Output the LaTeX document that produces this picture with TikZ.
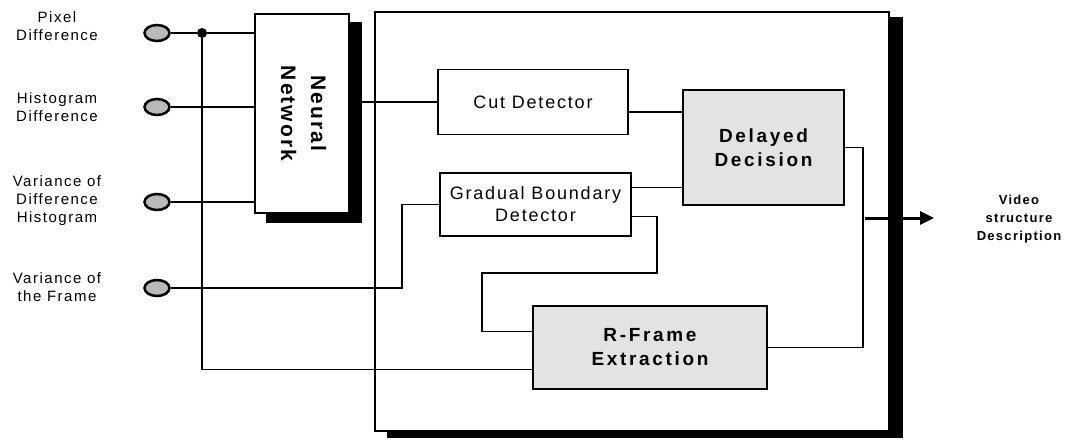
\documentclass[tikz,border=0pt]{standalone}
\usepackage{fontspec}
\setmainfont{Liberation Sans}
\newfontfamily\spaced[LetterSpace=10]{Liberation Sans}
\newfontfamily\wide[LetterSpace=14]{Liberation Sans}
\usetikzlibrary{shapes.geometric, arrows.meta, positioning}

\begin{document}
\begin{tikzpicture}[
    x=1pt, y=-1pt,
    every node/.style={font=\spaced},
    wire/.style={line width=1.5pt},
    block/.style={draw, line width=1.6pt, fill=white, align=center, inner sep=0pt,
        font=\spaced\fontsize{18}{22}\selectfont},
    grayblock/.style={block, fill=gray!22, font=\wide\bfseries\fontsize{19}{24}\selectfont},
    input/.style={ellipse, draw=black, line width=2.5pt, fill=gray!55,
        minimum width=25pt, minimum height=16pt, inner sep=0pt},
    inlabel/.style={align=center, font=\spaced\fontsize{15}{18}\selectfont},
    dot/.style={circle, fill, inner sep=0pt, minimum size=10pt},
    shadow/.style={fill=black},
]
\useasboundingbox (0,0) rectangle (1066,440);

% === Outer frame with shadow ===
\node[draw, line width=1.4pt, minimum width=514pt, minimum height=419pt] (frame) at (632,221.5) {};
\fill[shadow] ([shift={(13pt,-6pt)}]frame.south west) rectangle ([shift={(13pt,-6pt)}]frame.north east);
\node[draw, line width=1.4pt, fill=white, minimum width=514pt, minimum height=419pt] at (frame.center) {};

% === Inputs ===
\node[input] (pix)  at (157,33) {};
\node[input] (hist) at (157,107) {};
\node[input] (vdh)  at (157,202) {};
\node[input] (vfr)  at (157,288) {};

\node[inlabel] (pixlab)  at (57,26)  {Pixel\\Difference};
\node[inlabel] (histlab) at (57,107) {Histogram\\Difference};
\node[inlabel] (vdhlab)  at (57,201) {Variance of\\Difference\\Histogram};
\node[inlabel] (vfrlab)  at (57,287) {Variance of\\the Frame};

% === Neural network with shadow ===
\node[draw, line width=1.6pt, minimum width=94pt, minimum height=199pt] (nn) at (302,113.5) {};
\fill[shadow] ([shift={(12pt,-9pt)}]nn.south west) rectangle ([shift={(12pt,-9pt)}]nn.north east);
\node[block, minimum width=94pt, minimum height=199pt,
      font=\spaced\bfseries\fontsize{21}{30}\selectfont] at (nn.center)
      {\rotatebox{-90}{\begin{tabular}{@{}c@{}}Neural\\Network\end{tabular}}};

% === Detectors ===
\node[block, minimum width=190pt, minimum height=65pt] (cut) at (533,102) {Cut Detector};
\node[block, minimum width=191pt, minimum height=63pt] (gbd) at (535.5,204.5) {Gradual Boundary\\Detector};
\node[grayblock, minimum width=161pt, minimum height=115pt] (dd) at (763.5,147.5) {Delayed\\Decision};
\node[grayblock, minimum width=234pt, minimum height=83pt] (rfe) at (650,347.5) {R-Frame\\Extraction};

% === Wires ===
\node[dot] (jn) at (202,33) {};
\draw[wire] (pix) -- (jn) -- (jn -| nn.west);
\draw[wire] (hist) -- (hist -| nn.west);
\draw[wire] (vdh) -- (vdh -| nn.west);
\draw[wire] (jn) |- ([yshift=-22pt]rfe.west);
\draw[wire] (vfr) -| ([xshift=-37pt]gbd.west) -- (gbd.west);

\draw[wire] (nn.east |- cut.west) -- (cut.west);
\draw[wire] ([yshift=-10pt]cut.east) coordinate (c1) -- (c1 -| dd.west);
\draw[wire] ([yshift=17pt]gbd.east) coordinate (g1) -- (g1 -| dd.west);

\coordinate (loopa) at (657,273);
\coordinate (loopb) at (482,273);
\draw[wire] ([yshift=-12pt]gbd.east) -| (loopa) -- (loopb) |- ([yshift=16pt]rfe.west);
\draw[wire] (dd.east) -- ++(18,0) |- (rfe.east);

% === Output ===
\node[align=center, font=\spaced\bfseries\fontsize{13}{18}\selectfont] (out) at (1019,219)
    {Video\\structure\\Description};
\coordinate (outstart) at (865,218);
\coordinate (outend) at (934,218);
\draw[line width=3pt, -{Triangle[length=14pt,width=13pt]}] (outstart) -- (outend);

\end{tikzpicture}
\end{document}
